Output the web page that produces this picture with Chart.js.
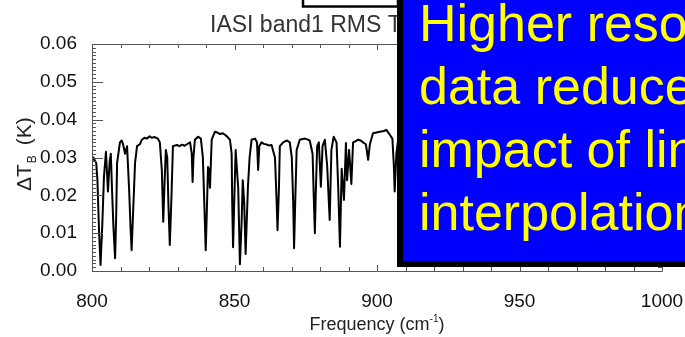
<!DOCTYPE html>
<html>
<head>
<meta charset="utf-8">
<script src="https://cdn.jsdelivr.net/npm/chart.js@4.4.1/dist/chart.umd.min.js"></script>
<style>
  html, body { margin: 0; padding: 0; background: #fff; }
  canvas { display: block; }
</style>
</head>
<body>
<canvas id="rmsChart" width="685" height="337"></canvas>
<script>
// IASI band1 RMS spectrum
const freq = [800.0, 800.5, 801.0, 801.5, 801.9, 802.5, 803.0, 803.6, 804.2, 804.9, 805.6, 806.2, 806.6, 807.0, 807.5, 808.1, 808.5, 808.8, 809.8, 810.4,
  810.9, 811.6, 812.3, 813.0, 813.5, 813.9, 814.4, 815.1, 815.8, 816.8, 817.5, 818.4, 819.3, 820.2, 821.0, 822.0, 823.1, 823.8, 824.5, 825.0,
  825.4, 825.9, 826.4, 826.8, 827.3, 827.9, 828.4, 829.8, 830.7, 831.6, 832.5, 833.3, 834.4, 835.0, 835.3, 835.6, 836.1, 837.2, 838.2, 838.9,
  839.4, 839.9, 840.3, 840.7, 841.0, 841.4, 842.0, 843.1, 844.0, 844.9, 845.9, 847.0, 847.8, 848.4, 849.0, 849.2, 849.5, 849.9, 850.4, 850.7,
  851.3, 851.9, 852.5, 852.9, 853.4, 853.9, 854.7, 855.3, 856.0, 857.2, 857.9, 858.3, 858.7, 859.5, 860.3, 861.0, 862.0, 863.0, 864.2, 864.7,
  865.1, 865.6, 865.9, 867.1, 868.4, 869.4, 870.1, 870.6, 870.9, 871.3, 871.8, 872.9, 874.7, 875.5, 876.4, 877.4, 877.8, 878.2, 878.5, 879.0,
  879.6, 880.3, 880.9, 881.7, 882.5, 883.4, 884.0, 884.8, 885.8, 886.4, 887.0, 887.6, 888.4, 889.1, 889.5, 890.2, 891.0, 891.6, 892.5, 893.4,
  894.3, 895.1, 896.1, 896.9, 897.5, 898.6, 899.8, 901.0, 902.4, 903.3, 904.5, 905.4, 905.9, 906.2, 906.8, 907.3, 908.5, 910.0];
const dTb = [0.0289, 0.0300, 0.0292, 0.0285, 0.0240, 0.0100, 0.0016, 0.0120, 0.0250, 0.0315, 0.0210, 0.0290, 0.0310, 0.0220, 0.0120, 0.0034, 0.0150, 0.0285, 0.0340, 0.0345,
  0.0335, 0.0310, 0.0330, 0.0220, 0.0120, 0.0055, 0.0150, 0.0285, 0.0330, 0.0335, 0.0347, 0.0352, 0.0350, 0.0356, 0.0352, 0.0354, 0.0350, 0.0340, 0.0267, 0.0130,
  0.0220, 0.0320, 0.0300, 0.0180, 0.0069, 0.0200, 0.0330, 0.0333, 0.0330, 0.0334, 0.0331, 0.0335, 0.0340, 0.0310, 0.0235, 0.0300, 0.0347, 0.0355, 0.0350, 0.0300,
  0.0180, 0.0055, 0.0160, 0.0275, 0.0270, 0.0220, 0.0347, 0.0368, 0.0366, 0.0362, 0.0364, 0.0358, 0.0352, 0.0347, 0.0310, 0.0180, 0.0063, 0.0180, 0.0320, 0.0285,
  0.0220, 0.0018, 0.0130, 0.0240, 0.0180, 0.0045, 0.0220, 0.0300, 0.0347, 0.0350, 0.0340, 0.0267, 0.0330, 0.0340, 0.0336, 0.0335, 0.0332, 0.0333, 0.0300, 0.0200,
  0.0108, 0.0220, 0.0330, 0.0340, 0.0345, 0.0340, 0.0300, 0.0180, 0.0060, 0.0180, 0.0320, 0.0347, 0.0350, 0.0348, 0.0345, 0.0310, 0.0200, 0.0100, 0.0200, 0.0330,
  0.0340, 0.0223, 0.0330, 0.0347, 0.0280, 0.0135, 0.0320, 0.0355, 0.0340, 0.0220, 0.0064, 0.0270, 0.0188, 0.0338, 0.0240, 0.0320, 0.0230, 0.0340, 0.0343, 0.0347,
  0.0345, 0.0340, 0.0335, 0.0294, 0.0335, 0.0364, 0.0366, 0.0368, 0.0370, 0.0373, 0.0360, 0.0350, 0.0280, 0.0210, 0.0310, 0.0340, 0.0350, 0.0352];

const xTicks = ['800', '850', '900', '950', '1000'];
const yTicks = ['0.00', '0.01', '0.02', '0.03', '0.04', '0.05', '0.06'];
const titleText = 'IASI band1 RMS T';
const boxLines = ['Higher resolution', 'data reduces the', 'impact of line', 'interpolation'];

const FONT = '"Liberation Sans", Arial, Helvetica, sans-serif';

// axes frame, minor ticks, titles and the slide overlays
const decorations = {
  id: 'decorations',
  afterDraw(chart) {
    const { ctx, chartArea: a, scales: { x, y } } = chart;
    ctx.save();

    // frame + ticks
    ctx.strokeStyle = '#555';
    ctx.lineWidth = 1;
    ctx.beginPath();
    ctx.rect(a.left + 0.5, a.top + 0.5, a.right - a.left, a.bottom - a.top);
    for (let f = 800; f <= 1000; f += 10) {
      const px = Math.round(x.getPixelForValue(f)) + 0.5;
      const len = f % 50 === 0 ? 6 : 4;
      ctx.moveTo(px, a.bottom); ctx.lineTo(px, a.bottom - len);
      ctx.moveTo(px, a.top); ctx.lineTo(px, a.top + len);
    }
    for (let i = 0; i <= 60; i++) {
      const py = Math.round(y.getPixelForValue(i / 1000)) + 0.5;
      const len = i % 10 === 0 ? 11 : 4;
      ctx.moveTo(a.left, py); ctx.lineTo(a.left + len, py);
      ctx.moveTo(a.right, py); ctx.lineTo(a.right - len, py);
    }
    ctx.stroke();

    // title
    ctx.fillStyle = '#333';
    ctx.font = '23px ' + FONT;
    ctx.textAlign = 'left';
    ctx.textBaseline = 'alphabetic';
    ctx.fillText(titleText, 210, 32);

    // x axis title with superscript
    ctx.fillStyle = '#222';
    ctx.font = '18px ' + FONT;
    const p1 = 'Frequency (cm', p3 = ')';
    const w1 = ctx.measureText(p1).width, w3 = ctx.measureText(p3).width;
    ctx.font = '10px ' + FONT;
    const w2 = ctx.measureText('-1').width;
    let sx = (a.left + a.right) / 2 - (w1 + w2 + w3) / 2;
    ctx.font = '18px ' + FONT;
    ctx.fillText(p1, sx, 330);
    ctx.font = '10px ' + FONT;
    ctx.fillText('-1', sx + w1, 322);
    ctx.font = '18px ' + FONT;
    ctx.fillText(p3, sx + w1 + w2, 330);

    // y axis title with subscript
    ctx.save();
    ctx.translate(31, 191);
    ctx.rotate(-Math.PI / 2);
    ctx.font = '21px ' + FONT;
    ctx.fillText('\u0394T', 0, 0);
    const wd = ctx.measureText('\u0394T').width;
    ctx.font = '12px ' + FONT;
    ctx.fillText('B', wd + 1, 5);
    ctx.font = '21px ' + FONT;
    ctx.fillText('(K)', wd + 19, 0);
    ctx.restore();

    // small white box at top
    ctx.fillStyle = '#fff';
    ctx.fillRect(302, -5, 96, 12);
    ctx.strokeStyle = '#000';
    ctx.lineWidth = 2.5;
    ctx.strokeRect(303, -5, 95, 11.5);

    // blue callout
    ctx.fillStyle = '#000';
    ctx.fillRect(397, -10, 300, 277);
    ctx.fillStyle = '#0000ff';
    ctx.fillRect(403, -10, 300, 271);
    ctx.fillStyle = '#ffff00';
    ctx.font = '52px ' + FONT;
    const base = [41, 104, 167, 230];
    boxLines.forEach((t, i) => ctx.fillText(t, 419, base[i]));

    ctx.restore();
  }
};

new Chart(document.getElementById('rmsChart'), {
  type: 'line',
  data: {
    datasets: [{
      data: freq.map((f, i) => ({ x: f, y: dTb[i] })),
      borderColor: '#000',
      borderWidth: 2,
      pointRadius: 0,
      tension: 0,
      borderJoinStyle: 'round'
    }]
  },
  options: {
    responsive: false,
    animation: false,
    devicePixelRatio: 1,
    layout: { padding: { left: 0, right: 23, top: 44, bottom: 0 } },
    plugins: { legend: { display: false }, tooltip: { enabled: false } },
    scales: {
      x: {
        type: 'linear',
        min: 800,
        max: 1000,
        afterBuildTicks: s => { s.ticks = xTicks.map(v => ({ value: Number(v) })); },
        afterFit: s => { s.height = 66; s.paddingLeft = 0; s.paddingRight = 0; },
        grid: { display: false },
        border: { display: false },
        ticks: {
          color: '#111', font: { size: 19, family: FONT }, padding: 11, maxRotation: 0, autoSkip: false,
          callback: (v, i) => xTicks[i]
        }
      },
      y: {
        min: 0,
        max: 0.06,
        afterBuildTicks: s => { s.ticks = yTicks.map(v => ({ value: parseFloat(v) })); },
        afterFit: s => { s.width = 92; s.paddingTop = 0; s.paddingBottom = 0; },
        grid: { display: false },
        border: { display: false },
        ticks: {
          color: '#111', font: { size: 19, family: FONT }, padding: 7,
          callback: (v, i) => yTicks[i]
        }
      }
    }
  },
  plugins: [decorations]
});
</script>
</body>
</html>
